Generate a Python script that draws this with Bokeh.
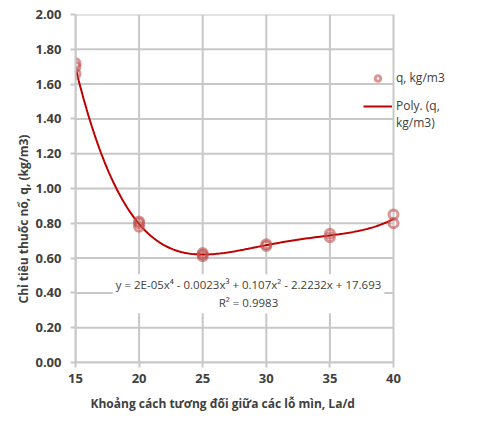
import numpy as np
from bokeh.plotting import figure
from bokeh.models import Legend, LegendItem, Label, FixedTicker, NumeralTickFormatter, Range1d, Title
from bokeh.embed import file_html
from bokeh.resources import INLINE

# data
la_d = [15, 15, 15, 20, 20, 20, 25, 25, 25, 30, 30, 35, 35, 40, 40]
q = [1.72, 1.70, 1.66, 0.81, 0.80, 0.78, 0.63, 0.62, 0.61, 0.68, 0.67, 0.74, 0.72, 0.85, 0.80]
x_ticks = [15, 20, 25, 30, 35, 40]
y_ticks = [0.0, 0.2, 0.4, 0.6, 0.8, 1.0, 1.2, 1.4, 1.6, 1.8, 2.0]
equation = "y = 2E-05x\u2074 - 0.0023x\u00b3 + 0.107x\u00b2 - 2.2232x + 17.693\nR\u00b2 = 0.9983"
x_title = "Khoảng cách tương đối giữa các lỗ mìn, La/d"
y_title = "Chỉ tiêu thuốc nổ, q, (kg/m3)"
legend_labels = ["q, kg/m3", "Poly. (q,", "kg/m3)"]

FONT = "Open Sans"
TXT = "#404040"
GRID = "#c8c8c8"

W, H = 469, 420
L, T, B = 75, 14, 58
x_min, x_max = x_ticks[0], x_ticks[-1]
y_min, y_max = y_ticks[0], y_ticks[-1]
px_per_unit = 318 / (x_max - x_min)
x_end = x_max + (W - L - 318) / px_per_unit

p = figure(width=W, height=H, output_backend="svg", toolbar_location=None,
           x_range=Range1d(x_min, x_end), y_range=Range1d(y_min, y_max),
           min_border_left=L, min_border_right=0, min_border_top=T, min_border_bottom=B)
p.outline_line_color = None
p.grid.grid_line_color = None

for ax in (p.xaxis[0], p.yaxis[0]):
    ax.axis_line_color = GRID
    ax.axis_line_width = 2
    ax.major_tick_line_color = GRID
    ax.major_tick_line_width = 2
    ax.major_tick_out = 5
    ax.major_tick_in = 0
    ax.minor_tick_line_color = None
    ax.major_label_text_font = FONT
    ax.major_label_text_font_style = "bold"
    ax.major_label_text_font_size = "13px"
    ax.major_label_text_color = TXT

p.xaxis.bounds = (x_min, x_max)
p.xaxis.ticker = FixedTicker(ticks=x_ticks)
p.yaxis.ticker = FixedTicker(ticks=y_ticks)
p.yaxis.formatter = NumeralTickFormatter(format="0.00")
p.xaxis.major_label_standoff = 6
p.yaxis.major_label_standoff = 9

# grid lines drawn at the tick positions
p.segment(x0=x_ticks, y0=[y_min] * len(x_ticks), x1=x_ticks, y1=[y_max] * len(x_ticks),
          line_color=GRID, line_width=2)
p.segment(x0=[x_min] * len(y_ticks), y0=y_ticks, x1=[x_max] * len(y_ticks), y1=y_ticks,
          line_color=GRID, line_width=2)

# axis titles
p.add_layout(Title(text=y_title, align="left", offset=59, standoff=2,
                   text_font=FONT, text_font_style="bold", text_font_size="12px",
                   text_color=TXT), "left")
p.add_layout(Title(text=x_title, align="left", offset=15, standoff=15,
                   text_font=FONT, text_font_style="bold", text_font_size="12px",
                   text_color=TXT), "below")

# polynomial (order 4) trendline fitted to the data
coef = np.polyfit(la_d, q, 4)
xs = np.linspace(min(la_d), max(la_d), 200)
ys = np.polyval(coef, xs)
trend = p.line(xs, ys, line_color="#c00000", line_width=2)

pts = p.scatter(la_d, q, size=9, marker="circle", fill_color=None,
                line_color="#c0504d", line_alpha=0.6, line_width=3)

eq = Label(x=28.6, y=0.395, text=equation, text_align="center", text_baseline="middle",
           text_font=FONT, text_font_size="11.5px", text_color=TXT,
           background_fill_color="white", background_fill_alpha=1.0, padding=3)
p.add_layout(eq)

leg_style = dict(glyph_width=29, glyph_height=14, label_standoff=4, spacing=0,
                 padding=0, margin=0, border_line_color=None, background_fill_alpha=0,
                 label_text_font=FONT, label_text_font_size="12px", label_text_color=TXT,
                 label_height=14)
leg1 = Legend(items=[LegendItem(label=legend_labels[0], renderers=[pts])],
              location=(288, 276), **leg_style)
leg2 = Legend(items=[LegendItem(label=legend_labels[1], renderers=[trend])],
              location=(288, 248), **leg_style)
leg3 = Legend(items=[LegendItem(label=legend_labels[2], renderers=[])],
              location=(288, 231), **leg_style)
p.add_layout(leg1, "center")
p.add_layout(leg2, "center")
p.add_layout(leg3, "center")

open("out.html", "w").write(file_html(p, INLINE))
